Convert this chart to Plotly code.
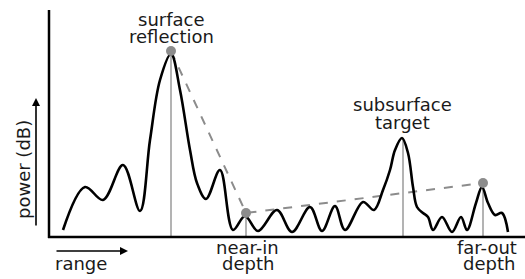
import plotly.graph_objects as go

# Echo curve (range in arbitrary units, power in arbitrary dB units above baseline)
range_vals = [63, 85, 103, 123, 140, 150, 160, 171, 180, 190, 197, 206, 220, 233, 245,
              258, 277, 292, 310, 322, 335, 345, 363, 374, 383, 390, 395, 402, 408, 413,
              417, 423, 428, 433, 442, 452, 461, 467, 476, 482, 488, 495, 502, 508]
power_vals = [7, 50, 37, 72, 26, 97, 157, 183, 147, 87, 54, 38, 67, 7, 21,
              6, 27, 5, 30, 6, 31, 7, 35, 27, 47, 67, 87, 99, 84, 50,
              30, 24, 20, 7, 20, 5, 20, 7, 34, 50, 34, 22, 24, 5]

# Marked points (surface reflection, near-in depth, far-out depth)
mark_range = [171, 246, 483]
mark_power = [186, 24, 54]

# Peak stems
stem_range = [171, 246, 403, 483]
stem_power = [183, 24, 99, 49]

labels = [
    ("surface", 171, 218), ("reflection", 171, 201),
    ("subsurface", 402, 133), ("target", 402, 115),
    ("near-in", 247, -10), ("depth", 248, -26),
    ("far-out", 487, -10), ("depth", 489, -26),
    ("range", 81, -26),
]

FONT = "DejaVu Sans"
TXT = "#1a1a1a"
GRAY = "#8c8c8c"

fig = go.Figure()

# stems
sx, sy = [], []
for r, p in zip(stem_range, stem_power):
    sx += [r, r, None]
    sy += [0, p, None]
fig.add_trace(go.Scatter(x=sx, y=sy, mode="lines",
                         line=dict(color="#9a9a9a", width=1.5), hoverinfo="skip"))

# dashed connecting line
fig.add_trace(go.Scatter(x=mark_range, y=mark_power, mode="lines",
                         line=dict(color=GRAY, width=2, dash="dash"), hoverinfo="skip"))

# curve
fig.add_trace(go.Scatter(x=range_vals, y=power_vals, mode="lines",
                         line=dict(color="black", width=2.6, shape="spline", smoothing=1.0),
                         hoverinfo="skip"))

# markers
fig.add_trace(go.Scatter(x=mark_range, y=mark_power, mode="markers",
                         marker=dict(color=GRAY, size=10), hoverinfo="skip"))

# axes lines
fig.add_shape(type="line", x0=49, x1=49, y0=-1, y1=227, line=dict(color="black", width=2.5))
fig.add_shape(type="line", x0=48, x1=525, y0=0, y1=0, line=dict(color="black", width=2.5))

for txt, x, y in labels:
    fig.add_annotation(x=x, y=y, text=txt, showarrow=False, xanchor="center", yanchor="middle",
                       font=dict(family=FONT, size=18, color=TXT))

fig.add_annotation(x=23, y=67, text="power (dB)", textangle=-90, showarrow=False,
                   xanchor="center", yanchor="middle", font=dict(family=FONT, size=18, color=TXT))

# arrows
fig.add_annotation(x=128, y=-14, ax=55, ay=-14, axref="x", ayref="y", xref="x", yref="y",
                   text="", showarrow=True, arrowhead=2, arrowsize=1, arrowwidth=1.6,
                   arrowcolor="black")
fig.add_annotation(x=36, y=139, ax=36, ay=10, axref="x", ayref="y", xref="x", yref="y",
                   text="", showarrow=True, arrowhead=2, arrowsize=1, arrowwidth=1.6,
                   arrowcolor="black")

fig.update_layout(
    width=525, height=279, margin=dict(l=0, r=0, t=0, b=0),
    paper_bgcolor="white", plot_bgcolor="white", showlegend=False,
    xaxis=dict(range=[0, 525], visible=False, fixedrange=True),
    yaxis=dict(range=[-42, 237], visible=False, fixedrange=True),
)

fig.write_html("out.html", config={"displayModeBar": False},
               post_script="document.body.style.margin='0px';document.body.style.overflow='hidden';")
